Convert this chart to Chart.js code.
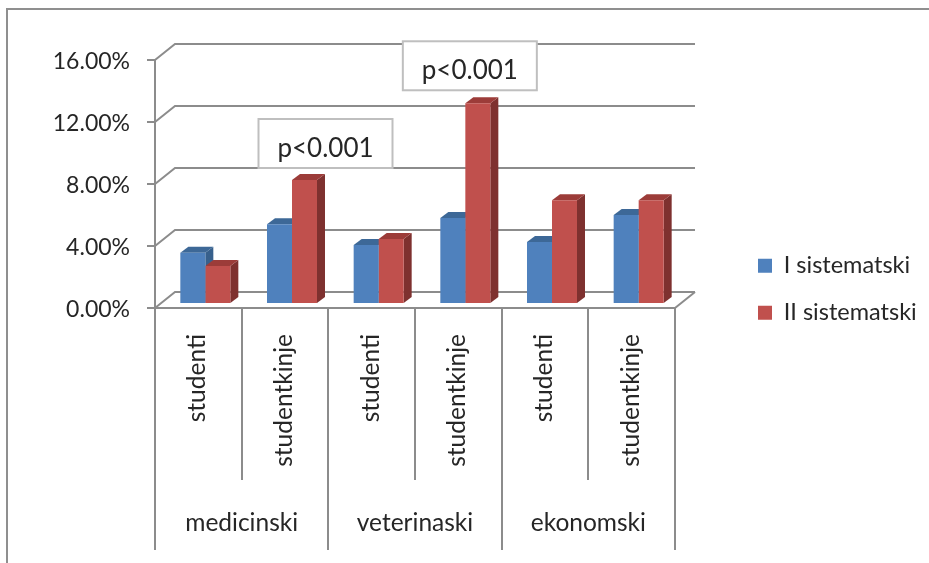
<!DOCTYPE html>
<html>
<head>
<meta charset="utf-8">
<style>
  html, body { margin: 0; padding: 0; background: #fff; }
  canvas { display: block; }
</style>
<script src="https://cdn.jsdelivr.net/npm/chart.js@4"></script>
</head>
<body>
<canvas id="chart" width="929" height="563"></canvas>
<script>
const categories = ['studenti', 'studentkinje', 'studenti', 'studentkinje', 'studenti', 'studentkinje'];
const faculties = ['medicinski', 'veterinaski', 'ekonomski'];
const seriesNames = ['I sistematski', 'II sistematski'];
const firstExam = [3.3, 5.15, 3.8, 5.55, 4.0, 5.75];
const secondExam = [2.45, 8.0, 4.2, 12.95, 6.7, 6.7];
const yTicks = [0, 4, 8, 12, 16];
const noteTexts = ['p<0.001', 'p<0.001'];
const noteCategories = [1, 3];

const FONT = 'Lato, "Open Sans", sans-serif';
const TEXT = '#262626';
const LINE = '#8c8c8c';
const BLUE = '#4f81bd';
const RED = '#c0504d';

// the fake 3d: how far the back wall sits from the front, and the bar depth
const WALL_DX = 20, WALL_DY = 16;
const BAR_DX = 8, BAR_DY = 6;
const BAR_SHIFT_X = 7, BAR_SHIFT_Y = -4;
const faces = [
    { top: '#3d6897', side: '#37608c' },
    { top: '#9c3c39', side: '#7e312f' }
];
// note boxes, relative to the top middle of the red bar they belong to
const noteOffsets = [{ dx: 28, dy: -16 }, { dx: -1, dy: -17 }];

function drawWalls(chart) {
    const ctx = chart.ctx, y = chart.scales.y, area = chart.chartArea;
    ctx.save();
    ctx.strokeStyle = LINE;
    ctx.lineWidth = 2;
    yTicks.forEach(v => {
        const py = y.getPixelForValue(v);
        ctx.beginPath();
        ctx.moveTo(area.left, py);
        ctx.lineTo(area.left + WALL_DX, py - WALL_DY);
        ctx.lineTo(area.right + WALL_DX, py - WALL_DY);
        ctx.stroke();
    });
    const bottom = y.getPixelForValue(0);
    ctx.beginPath();
    ctx.moveTo(area.right, bottom);
    ctx.lineTo(area.right + WALL_DX, bottom - WALL_DY);
    ctx.stroke();
    ctx.restore();
}

function drawBarFaces(chart) {
    const ctx = chart.ctx;
    [0, 1].forEach(i => {
        chart.getDatasetMeta(i).data.forEach(bar => {
            const left = bar.x - bar.width / 2, right = bar.x + bar.width / 2;
            ctx.fillStyle = faces[i].side;
            ctx.beginPath();
            ctx.moveTo(right, bar.y);
            ctx.lineTo(right + BAR_DX, bar.y - BAR_DY);
            ctx.lineTo(right + BAR_DX, bar.base - BAR_DY);
            ctx.lineTo(right, bar.base);
            ctx.closePath();
            ctx.fill();
            ctx.fillStyle = faces[i].top;
            ctx.beginPath();
            ctx.moveTo(left, bar.y);
            ctx.lineTo(left + BAR_DX, bar.y - BAR_DY);
            ctx.lineTo(right + BAR_DX, bar.y - BAR_DY);
            ctx.lineTo(right, bar.y);
            ctx.closePath();
            ctx.fill();
        });
    });
}

function drawNotes(chart) {
    const ctx = chart.ctx, meta = chart.getDatasetMeta(1);
    ctx.save();
    noteTexts.forEach((text, i) => {
        const bar = meta.data[noteCategories[i]];
        const w = 134, h = 49;
        const cx = bar.x + noteOffsets[i].dx;
        const bottom = bar.y + noteOffsets[i].dy;
        ctx.fillStyle = '#fff';
        ctx.strokeStyle = '#bfbfbf';
        ctx.lineWidth = 2;
        ctx.fillRect(cx - w / 2, bottom - h, w, h);
        ctx.strokeRect(cx - w / 2, bottom - h, w, h);
        ctx.fillStyle = TEXT;
        ctx.font = '26px ' + FONT;
        ctx.textAlign = 'center';
        ctx.textBaseline = 'middle';
        ctx.fillText(text, cx, bottom - h / 2 + 5);
    });
    ctx.restore();
}

const fakeDepth = {
    id: 'fakeDepth',
    afterLayout(chart) {
        // legend sits right of the plot, not inside it
        const legend = chart.legend;
        legend.left = 734.5;
        legend.right = 929;
        legend.top = 230.5;
        legend.bottom = 400;
    },
    beforeDraw(chart) {
        // only the top and left edge of the frame are in the picture
        const ctx = chart.ctx;
        ctx.save();
        ctx.strokeStyle = '#8f8f8f';
        ctx.lineWidth = 2;
        ctx.beginPath();
        ctx.moveTo(7, 563);
        ctx.lineTo(7, 9);
        ctx.lineTo(929, 9);
        ctx.stroke();
        ctx.restore();
    },
    beforeDatasetsDraw(chart) {
        drawWalls(chart);
        chart.ctx.save();
        chart.ctx.translate(BAR_SHIFT_X, BAR_SHIFT_Y);
        drawBarFaces(chart);
    },
    afterDatasetsDraw(chart) {
        chart.ctx.restore();
        drawNotes(chart);
    }
};

new Chart(document.getElementById('chart').getContext('2d'), {
    type: 'bar',
    data: {
        labels: categories,
        datasets: [
            { label: seriesNames[0], data: firstExam, backgroundColor: BLUE, clip: false },
            { label: seriesNames[1], data: secondExam, backgroundColor: RED, clip: false }
        ]
    },
    options: {
        responsive: false,
        animation: false,
        layout: { padding: { left: 0, top: 60, right: 254, bottom: 13 } },
        categoryPercentage: 0.577,
        barPercentage: 1,
        scales: {
            y: {
                min: 0,
                max: 16,
                afterBuildTicks(scale) {
                    scale.ticks = yTicks.map(value => ({ value }));
                },
                afterFit(scale) { scale.width = 155; },
                border: { color: LINE, width: 2 },
                grid: { drawOnChartArea: false, color: LINE, lineWidth: 2, tickLength: 8 },
                ticks: {
                    color: TEXT,
                    padding: 17,
                    labelOffset: 2,
                    font: { family: FONT, size: 23 },
                    callback: v => v.toFixed(2) + '%'
                }
            },
            x: {
                afterFit(scale) { scale.height = 172; },
                border: { color: LINE, width: 2 },
                grid: { offset: true, drawOnChartArea: false, color: LINE, lineWidth: 2, tickLength: 172 },
                ticks: {
                    color: TEXT,
                    autoSkip: false,
                    minRotation: 90,
                    maxRotation: 90,
                    padding: -146,
                    labelOffset: -1,
                    font: { family: FONT, size: 24.5 }
                }
            },
            groups: {
                type: 'category',
                position: 'bottom',
                labels: faculties,
                offset: true,
                afterFit(scale) { scale.height = 70; },
                border: { display: false },
                grid: { offset: true, drawOnChartArea: false, color: LINE, lineWidth: 2, tickLength: 70 },
                ticks: {
                    color: TEXT,
                    maxRotation: 0,
                    padding: -42,
                    font: { family: FONT, size: 24.5 }
                }
            }
        },
        plugins: {
            tooltip: { enabled: false },
            legend: {
                position: 'chartArea',
                align: 'start',
                labels: {
                    boxWidth: 14,
                    boxHeight: 14,
                    padding: 23.5,
                    color: TEXT,
                    font: { family: FONT, size: 23.5 }
                }
            }
        }
    },
    plugins: [fakeDepth]
});
</script>
</body>
</html>
